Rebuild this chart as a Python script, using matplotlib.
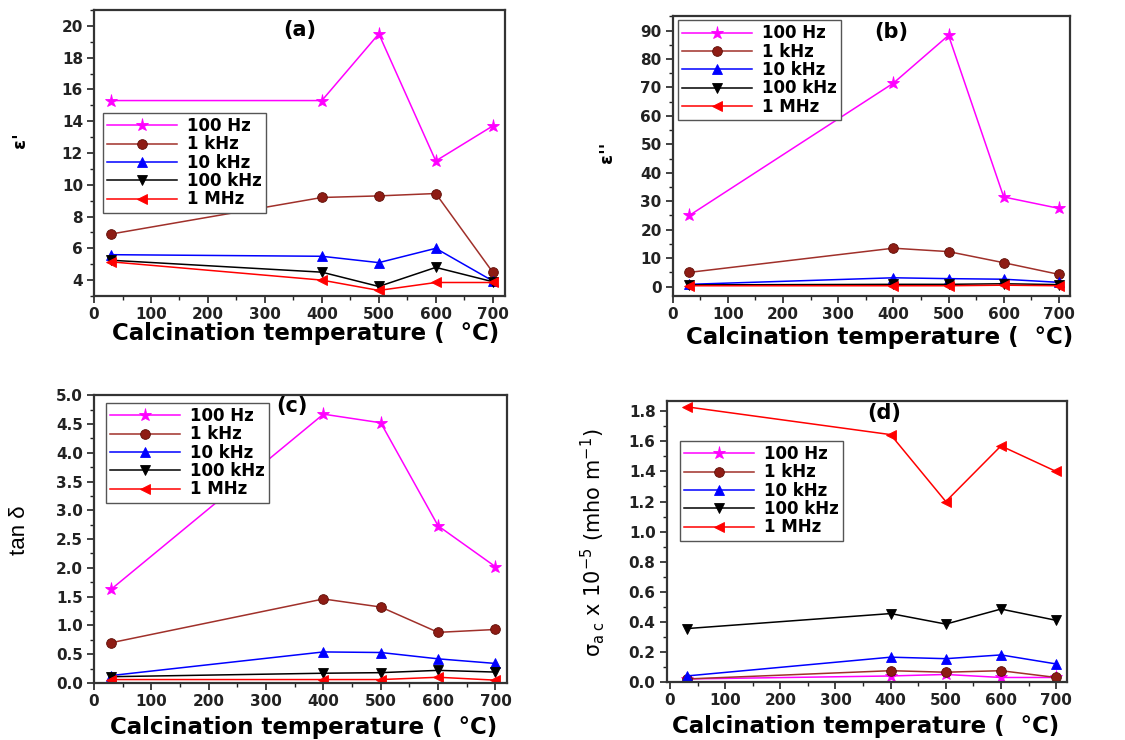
import matplotlib
matplotlib.use("Agg")
import matplotlib.pyplot as plt
from matplotlib.ticker import MultipleLocator

plt.rcParams["font.family"] = ["DejaVu Sans"]
plt.rcParams["mathtext.fontset"] = "custom"
plt.rcParams["mathtext.rm"] = "Liberation Sans"
plt.rcParams["mathtext.it"] = "Liberation Sans:italic"
plt.rcParams["mathtext.bf"] = "Liberation Sans:bold"
plt.rcParams["mathtext.default"] = "regular"

# Calcination temperatures (°C)
temperature = [30, 400, 500, 600, 700]
frequencies = ["100 Hz", "1 kHz", "10 kHz", "100 kHz", "1 MHz"]

# (a) real permittivity
eps_real_100Hz = [15.3, 15.3, 19.5, 11.5, 13.7]
eps_real_1kHz = [6.9, 9.2, 9.3, 9.45, 4.5]
eps_real_10kHz = [5.6, 5.5, 5.1, 6.0, 3.95]
eps_real_100kHz = [5.25, 4.5, 3.6, 4.8, 3.9]
eps_real_1MHz = [5.15, 4.0, 3.35, 3.85, 3.85]

# (b) imaginary permittivity
eps_imag_100Hz = [25.0, 71.5, 88.3, 31.5, 27.5]
eps_imag_1kHz = [5.0, 13.5, 12.3, 8.4, 4.3]
eps_imag_10kHz = [0.8, 3.1, 2.8, 2.6, 1.5]
eps_imag_100kHz = [0.6, 0.8, 0.8, 1.0, 0.7]
eps_imag_1MHz = [0.3, 0.3, 0.3, 0.5, 0.3]

# (c) loss tangent
tan_100Hz = [1.63, 4.67, 4.52, 2.73, 2.02]
tan_1kHz = [0.70, 1.46, 1.32, 0.88, 0.93]
tan_10kHz = [0.13, 0.54, 0.53, 0.42, 0.34]
tan_100kHz = [0.11, 0.17, 0.18, 0.22, 0.19]
tan_1MHz = [0.06, 0.06, 0.06, 0.10, 0.05]

# (d) ac conductivity (x 1e-5 mho/m)
sig_100Hz = [0.02, 0.04, 0.05, 0.03, 0.03]
sig_1kHz = [0.02, 0.075, 0.065, 0.075, 0.03]
sig_10kHz = [0.04, 0.165, 0.155, 0.18, 0.12]
sig_100kHz = [0.355, 0.455, 0.385, 0.485, 0.41]
sig_1MHz = [1.83, 1.645, 1.20, 1.57, 1.40]

styles = [
    dict(color="#FF00FF", marker="*", mfc="#FF00FF", mec="#FF00FF", ms=9.5),
    dict(color="#A0302A", marker="o", mfc="#8E1C14", mec="#5E0E06", ms=7),
    dict(color="#0000FF", marker="^", mfc="#0000FF", mec="#0000FF", ms=7.5),
    dict(color="#000000", marker="v", mfc="#000000", mec="#000000", ms=7.5),
    dict(color="#FF0000", marker="<", mfc="#FF0000", mec="#FF0000", ms=7.5),
]

fig = plt.figure(figsize=(11.25, 7.4), dpi=100)

panels = [
    dict(rect=[0.0836, 0.600, 0.365, 0.3865],
         data=[eps_real_100Hz, eps_real_1kHz, eps_real_10kHz, eps_real_100kHz, eps_real_1MHz],
         ylim=(3.0, 21.0), ymaj=2, ymin=1, xlim=(0, 721), tag="(a)", tagpos=(0.50, 0.93),
         leg=(0.022, 0.64), xlab=(0.516, -0.13)),
    dict(rect=[0.598, 0.600, 0.353, 0.378],
         data=[eps_imag_100Hz, eps_imag_1kHz, eps_imag_10kHz, eps_imag_100kHz, eps_imag_1MHz],
         ylim=(-3.3, 95.0), ymaj=10, ymin=5, xlim=(0, 720), tag="(b)", tagpos=(0.55, 0.943),
         leg=(0.013, 0.986), xlab=(0.52, -0.15)),
    dict(rect=[0.0836, 0.077, 0.367, 0.389],
         data=[tan_100Hz, tan_1kHz, tan_10kHz, tan_100kHz, tan_1MHz],
         ylim=(0.0, 5.0), ymaj=0.5, ymin=0.25, xlim=(0, 720), tag="(c)", tagpos=(0.48, 0.962),
         leg=(0.029, 0.973), xlab=(0.507, -0.156)),
    dict(rect=[0.5926, 0.0784, 0.356, 0.380],
         data=[sig_100Hz, sig_1kHz, sig_10kHz, sig_100kHz, sig_1MHz],
         ylim=(0.0, 1.87), ymaj=0.2, ymin=0.1, xlim=(-6, 720), tag="(d)", tagpos=(0.543, 0.957),
         leg=(0.033, 0.857), xlab=(0.496, -0.16)),
]

axes = []
for p in panels:
    ax = fig.add_axes(p["rect"])
    for series, label, st in zip(p["data"], frequencies, styles):
        ax.plot(temperature, series, color=st["color"], lw=1.1, marker=st["marker"],
                markerfacecolor=st["mfc"], markeredgecolor=st["mec"], markersize=st["ms"],
                markeredgewidth=0.6, label=label)
    ax.set_xlim(*p["xlim"])
    ax.set_ylim(*p["ylim"])
    ax.xaxis.set_major_locator(MultipleLocator(100))
    ax.xaxis.set_minor_locator(MultipleLocator(50))
    ax.yaxis.set_major_locator(MultipleLocator(p["ymaj"]))
    ax.yaxis.set_minor_locator(MultipleLocator(p["ymin"]))
    ax.tick_params(which="both", direction="out", top=False, right=False, colors="#222222")
    ax.tick_params(which="major", length=5, width=1.2, labelsize=11, pad=3)
    ax.tick_params(which="minor", length=3, width=1.0)
    for lab in ax.get_xticklabels() + ax.get_yticklabels():
        lab.set_fontweight("bold")
    for s in ax.spines.values():
        s.set_linewidth(1.6)
        s.set_color("#333333")
    ax.set_xlabel("Calcination temperature (  \u00b0C)", fontsize=16.5, fontweight="bold")
    ax.xaxis.set_label_coords(*p["xlab"])
    ax.xaxis.label.set_va("center")
    ax.text(p["tagpos"][0], p["tagpos"][1], p["tag"], transform=ax.transAxes, fontsize=15,
            fontweight="bold", ha="center", va="center")
    leg = ax.legend(loc="upper left", bbox_to_anchor=p["leg"], borderaxespad=0, fancybox=False,
                    framealpha=1, edgecolor="#555555", handlelength=4.2, labelspacing=0.02,
                    borderpad=0.25, handletextpad=0.6, prop=dict(size=12, weight="bold"))
    leg.get_frame().set_linewidth(1.0)
    axes.append(ax)

axes[0].set_ylabel("\u03b5'", fontsize=13, fontweight="bold")
axes[0].yaxis.set_label_coords(-0.18, 0.545)
axes[1].set_ylabel("\u03b5''", fontsize=13, fontweight="bold")
axes[1].yaxis.set_label_coords(-0.165, 0.514)
axes[2].set_ylabel("tan \u03b4", fontsize=16, family="Liberation Sans")
axes[2].yaxis.set_label_coords(-0.18, 0.53)
axes[3].set_ylabel(r"$\sigma_{a\ c}$ x 10$^{-5}$ (mho m$^{-1}$)", fontsize=15)
axes[3].yaxis.set_label_coords(-0.184, 0.495)
for ax in axes:
    ax.yaxis.label.set_va("center")

fig.savefig("out.png", dpi=100)
